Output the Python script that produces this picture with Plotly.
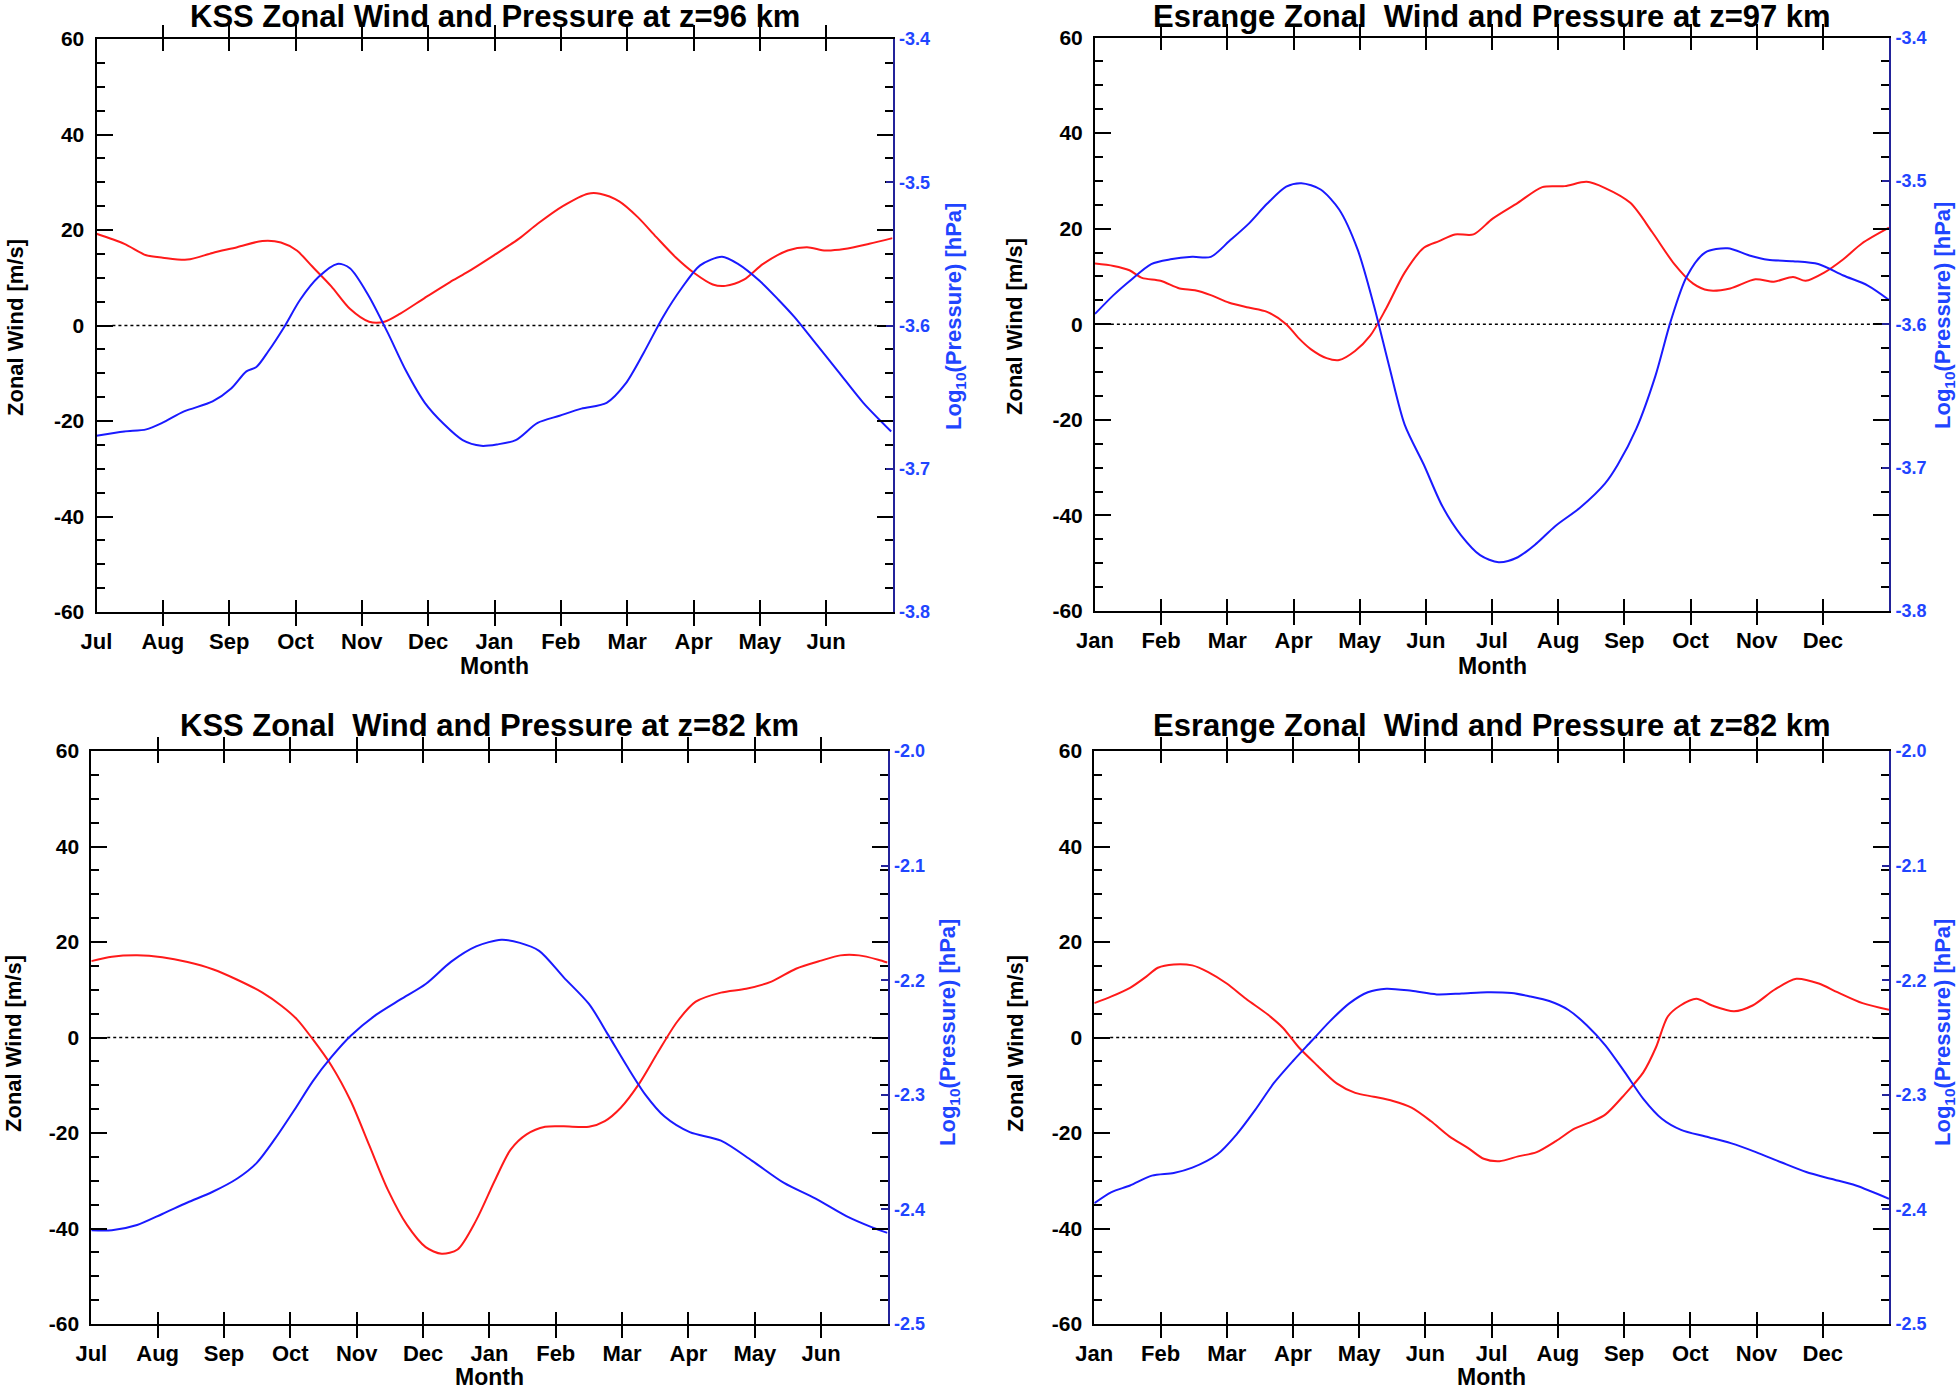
import plotly.graph_objects as go

# ---------------- data ----------------
MONTHS_KSS = ["Jul", "Aug", "Sep", "Oct", "Nov", "Dec", "Jan", "Feb", "Mar", "Apr", "May", "Jun"]
MONTHS_ESR = ["Jan", "Feb", "Mar", "Apr", "May", "Jun", "Jul", "Aug", "Sep", "Oct", "Nov", "Dec"]

WIND_TICKS = [-60, -40, -20, 0, 20, 40, 60]
WIND_TICK_TEXT = ["-60", "-40", "-20", "0", "20", "40", "60"]
PRES_TICKS_TOP = [-3.8, -3.7, -3.6, -3.5, -3.4]
PRES_TICK_TEXT_TOP = ["-3.8", "-3.7", "-3.6", "-3.5", "-3.4"]
PRES_TICKS_BOT = [-2.5, -2.4, -2.3, -2.2, -2.1, -2.0]
PRES_TICK_TEXT_BOT = ["-2.5", "-2.4", "-2.3", "-2.2", "-2.1", "-2.0"]

# KSS z=96 km  (time in months since start of axis)
kss96_wind_t = [0, 0.42, 0.75, 1.0, 1.37, 1.75, 2.12, 2.5, 2.78, 3.02, 3.25, 3.54, 3.82, 4.11, 4.34, 4.58,
                4.95, 5.33, 5.57, 5.99, 6.37, 6.65, 7.03, 7.41, 7.59, 7.88, 8.16, 8.44, 8.73, 9.01, 9.29,
                9.48, 9.76, 10.05, 10.42, 10.71, 10.99, 11.27, 11.65, 12.0]
kss96_wind = [19.2, 17.1, 14.7, 14.2, 13.8, 15.2, 16.4, 17.7, 17.4, 15.7, 12.4, 8.2, 3.5, 0.8, 0.8, 2.5,
              5.8, 9.1, 11.0, 14.7, 18.2, 21.3, 25.0, 27.6, 27.6, 26.0, 22.7, 18.5, 14.3, 11.0, 8.6,
              8.3, 9.6, 12.9, 15.7, 16.4, 15.7, 16.0, 17.1, 18.3]
kss96_pres_t = [0, 0.42, 0.75, 0.99, 1.32, 1.75, 2.03, 2.26, 2.41, 2.59, 2.83, 3.07, 3.35, 3.63, 3.82, 4.10,
                4.39, 4.67, 4.95, 5.24, 5.52, 5.80, 6.04, 6.32, 6.65, 6.98, 7.31, 7.69, 7.97, 8.25, 8.54,
                8.82, 9.10, 9.43, 9.67, 10.0, 10.28, 10.52, 10.80, 11.18, 11.56, 11.98]
kss96_pres = [-3.677, -3.674, -3.6725, -3.668, -3.660, -3.653, -3.644, -3.632, -3.629, -3.618, -3.601,
              -3.582, -3.566, -3.557, -3.560, -3.579, -3.605, -3.632, -3.654, -3.669, -3.680, -3.684,
              -3.683, -3.680, -3.668, -3.663, -3.658, -3.654, -3.641, -3.619, -3.594, -3.574, -3.558,
              -3.552, -3.557, -3.569, -3.582, -3.594, -3.610, -3.632, -3.654, -3.674]

# Esrange z=97 km
esr97_wind_t = [0, 0.28, 0.52, 0.71, 0.99, 1.28, 1.51, 1.75, 2.03, 2.32, 2.60, 2.89, 3.07, 3.26, 3.50,
                3.69, 3.93, 4.16, 4.40, 4.68, 4.97, 5.20, 5.44, 5.72, 6.01, 6.39, 6.76, 7.10, 7.43, 7.71,
                8.09, 8.42, 8.75, 9.04, 9.27, 9.60, 9.98, 10.26, 10.55, 10.74, 11.02, 11.31, 11.59, 12.0]
esr97_wind = [12.7, 12.2, 11.3, 9.7, 9.1, 7.5, 7.1, 6.1, 4.5, 3.5, 2.6, 0.0, -2.8, -5.2, -7.1,
              -7.5, -5.6, -2.4, 3.3, 10.8, 16.0, 17.4, 18.8, 18.8, 22.1, 25.4, 28.7, 28.9, 29.8, 28.5,
              25.4, 19.3, 12.7, 8.5, 7.1, 7.5, 9.4, 8.9, 9.9, 9.1, 10.8, 13.6, 16.9, 20.2]
esr97_pres_t = [0, 0.28, 0.52, 0.85, 1.14, 1.47, 1.75, 2.03, 2.32, 2.60, 2.89, 3.12, 3.41, 3.69, 3.97,
                4.21, 4.45, 4.68, 4.97, 5.25, 5.53, 5.82, 6.10, 6.39, 6.67, 6.95, 7.33, 7.71, 7.90, 8.18,
                8.47, 8.70, 8.94, 9.22, 9.56, 9.89, 10.17, 10.55, 10.93, 11.31, 11.68, 12.0]
esr97_pres = [-3.5928, -3.5797, -3.570, -3.558, -3.5547, -3.553, -3.553, -3.542, -3.530, -3.516, -3.504,
              -3.5016, -3.506, -3.520, -3.548, -3.586, -3.630, -3.670, -3.698, -3.727, -3.747, -3.761,
              -3.766, -3.7625, -3.753, -3.741, -3.728, -3.711, -3.698, -3.673, -3.636, -3.598, -3.567,
              -3.550, -3.547, -3.552, -3.555, -3.556, -3.558, -3.566, -3.573, -3.583]

# KSS z=82 km
kss82_wind_t = [0, 0.31, 0.69, 1.07, 1.45, 1.83, 2.20, 2.58, 2.87, 3.10, 3.34, 3.62, 3.91, 4.19, 4.47,
                4.76, 5.04, 5.28, 5.52, 5.80, 6.08, 6.32, 6.56, 6.84, 7.12, 7.50, 7.74, 7.98, 8.26, 8.54,
                8.83, 9.11, 9.49, 9.87, 10.25, 10.62, 11.00, 11.29, 11.57, 11.86, 12.0]
kss82_wind = [16.0, 16.9, 17.2, 16.8, 15.8, 14.3, 12.1, 9.4, 6.6, 3.8, -0.4, -5.9, -13.3, -22.6, -31.9,
              -39.3, -43.9, -45.3, -44.4, -38.3, -30.0, -23.5, -20.3, -18.7, -18.6, -18.7, -17.5, -14.7,
              -9.6, -3.1, 3.3, 7.5, 9.4, 10.2, 11.7, 14.4, 16.1, 17.2, 17.2, 16.3, 15.7]
kss82_pres_t = [0, 0.31, 0.69, 1.07, 1.45, 1.83, 2.20, 2.49, 2.77, 3.06, 3.34, 3.62, 3.91, 4.29, 4.66,
                5.04, 5.42, 5.80, 6.18, 6.46, 6.75, 7.12, 7.50, 7.79, 8.07, 8.35, 8.64, 9.02, 9.49, 9.96,
                10.44, 10.91, 11.38, 11.76, 12.0]
kss82_pres = [-2.4182, -2.4182, -2.4136, -2.404, -2.394, -2.3846, -2.373, -2.3596, -2.3383, -2.3133,
              -2.288, -2.267, -2.2485, -2.2303, -2.2168, -2.2033, -2.184, -2.1705, -2.1647, -2.1674,
              -2.1744, -2.1975, -2.2207, -2.2477, -2.2747, -2.2998, -2.319, -2.3326, -2.340, -2.3576,
              -2.3769, -2.3904, -2.4059, -2.4155, -2.4205]

# Esrange z=82 km
esr82_wind_t = [0, 0.26, 0.54, 0.78, 0.96, 1.20, 1.48, 1.72, 2.00, 2.29, 2.62, 2.85, 3.09, 3.37, 3.66,
                3.94, 4.22, 4.51, 4.79, 5.08, 5.36, 5.64, 5.88, 6.12, 6.40, 6.68, 6.97, 7.25, 7.53, 7.72,
                8.01, 8.29, 8.48, 8.66, 8.85, 9.09, 9.33, 9.66, 9.94, 10.27, 10.60, 10.94, 11.22, 11.60,
                12.0]
esr82_wind = [7.2, 8.6, 10.4, 12.7, 14.6, 15.3, 15.1, 13.7, 11.3, 8.1, 4.8, 2.0, -2.1, -5.9, -9.6,
              -11.6, -12.4, -13.3, -14.7, -17.5, -20.7, -23.1, -25.4, -25.9, -24.9, -24.0, -21.7, -19.1,
              -17.5, -16.1, -11.9, -7.3, -2.1, 4.4, 6.7, 8.1, 6.7, 5.5, 6.7, 10.0, 12.3, 11.3, 9.5, 7.2,
              5.8]
esr82_pres_t = [0, 0.26, 0.54, 0.87, 1.20, 1.48, 1.86, 2.15, 2.43, 2.71, 3.00, 3.28, 3.56, 3.85, 4.13,
                4.41, 4.79, 5.17, 5.55, 5.93, 6.30, 6.59, 6.87, 7.16, 7.44, 7.72, 8.01, 8.29, 8.57, 8.86,
                9.23, 9.61, 9.99, 10.37, 10.75, 11.12, 11.50, 12.0]
esr82_pres = [-2.3946, -2.3849, -2.3791, -2.3705, -2.3682, -2.3636, -2.3519, -2.3345, -2.3132, -2.2899,
              -2.2705, -2.2531, -2.2357, -2.2202, -2.2105, -2.2074, -2.2093, -2.2124, -2.2116, -2.2105,
              -2.2112, -2.2143, -2.2182, -2.226, -2.2395, -2.257, -2.2802, -2.3035, -2.3209, -2.3306,
              -2.3364, -2.3422, -2.350, -2.3589, -2.3674, -2.3733, -2.3791, -2.3907]

TITLES = ["KSS Zonal Wind and Pressure at z=96 km",
          "Esrange Zonal  Wind and Pressure at z=97 km",
          "KSS Zonal  Wind and Pressure at z=82 km",
          "Esrange Zonal  Wind and Pressure at z=82 km"]

# ---------------- layout constants (pixels) ----------------
W, H = 1960, 1391
FONT = "Liberation Sans, Arial, Helvetica, sans-serif"
RED = "#ff1a1a"
BLUE = "#1a1aff"
RBLUE = "#1f45ff"
NAVY = "#23239a"

panels = [
    dict(box=(96.5, 892.5, 39, 612), months=MONTHS_KSS, wt=kss96_wind_t, w=kss96_wind,
         pt=kss96_pres_t, p=kss96_pres, prange=[-3.8, -3.4],
         ptv=PRES_TICKS_TOP, ptt=PRES_TICK_TEXT_TOP, title=TITLES[0],
         title_y=17, ylab=(16, 328), rlab=(955, 317), month_y=666),
    dict(box=(1095, 1889, 37.5, 611), months=MONTHS_ESR, wt=esr97_wind_t, w=esr97_wind,
         pt=esr97_pres_t, p=esr97_pres, prange=[-3.8, -3.4],
         ptv=PRES_TICKS_TOP, ptt=PRES_TICK_TEXT_TOP, title=TITLES[1],
         title_y=16, ylab=(1015, 327), rlab=(1944, 316), month_y=666),
    dict(box=(91.3, 887.5, 751, 1324), months=MONTHS_KSS, wt=kss82_wind_t, w=kss82_wind,
         pt=kss82_pres_t, p=kss82_pres, prange=[-2.5, -2.0],
         ptv=PRES_TICKS_BOT, ptt=PRES_TICK_TEXT_BOT, title=TITLES[2],
         title_y=725, ylab=(13, 1044), rlab=(949, 1033), month_y=1377),
    dict(box=(1094.3, 1889, 751, 1324), months=MONTHS_ESR, wt=esr82_wind_t, w=esr82_wind,
         pt=esr82_pres_t, p=esr82_pres, prange=[-2.5, -2.0],
         ptv=PRES_TICKS_BOT, ptt=PRES_TICK_TEXT_BOT, title=TITLES[3],
         title_y=725, ylab=(1015, 1044), rlab=(1944, 1033), month_y=1377),
]

fig = go.Figure()
layout = dict(template="none", width=W, height=H, autosize=False,
              margin=dict(l=0, r=0, t=0, b=0, pad=0, autoexpand=False),
              paper_bgcolor="white", plot_bgcolor="white", showlegend=False,
              font=dict(family=FONT, color="black"))
annotations = []
shapes = []


def px(x):
    return x / W


def py(y):
    return 1 - y / H


for i, P in enumerate(panels):
    xa = "x" if i == 0 else f"x{i + 1}"
    ya = f"y{2 * i + 1}" if i > 0 else "y"
    yb = f"y{2 * i + 2}"
    xkey = "xaxis" if i == 0 else f"xaxis{i + 1}"
    ykey = "yaxis" if i == 0 else f"yaxis{2 * i + 1}"
    y2key = f"yaxis{2 * i + 2}"
    x0, x1, t0, t1 = P["box"]

    fig.add_trace(go.Scatter(x=P["wt"], y=P["w"], mode="lines", xaxis=xa, yaxis=ya,
                             line=dict(color=RED, width=2, shape="spline", smoothing=0.8),
                             hoverinfo="skip"))
    fig.add_trace(go.Scatter(x=P["pt"], y=P["p"], mode="lines", xaxis=xa, yaxis=yb,
                             line=dict(color=BLUE, width=2, shape="spline", smoothing=0.8),
                             hoverinfo="skip"))

    layout[xkey] = dict(domain=[px(x0), px(x1)], anchor=ya, range=[0, 12], automargin=False,
                        tickvals=list(range(12)), ticktext=P["months"],
                        showgrid=False, zeroline=False, showline=True, linecolor="black",
                        linewidth=2, mirror="allticks", ticks="inside", ticklen=12,
                        tickwidth=2, tickcolor="black", ticklabelstandoff=9,
                        tickfont=dict(family=FONT, size=22, color="black", weight="bold"),
                        fixedrange=True)
    layout[ykey] = dict(domain=[py(t1), py(t0)], anchor=xa, range=[-60, 60], automargin=False,
                        tickvals=WIND_TICKS, ticktext=WIND_TICK_TEXT,
                        showgrid=False, zeroline=False, showline=True,
                        linecolor="black", linewidth=2, mirror="allticks", ticks="inside",
                        ticklen=16, tickwidth=2, tickcolor="black", ticklabelstandoff=6,
                        minor=dict(dtick=5, tick0=0, ticks="inside", ticklen=8, tickwidth=2,
                                   tickcolor="black", showgrid=False),
                        tickfont=dict(family=FONT, size=21, color="black", weight="bold"),
                        fixedrange=True)
    layout[y2key] = dict(overlaying=ya, anchor=xa, side="right", range=P["prange"],
                         automargin=False, tickvals=P["ptv"], ticktext=P["ptt"],
                         showgrid=False, zeroline=False, showline=True,
                         linecolor=NAVY, linewidth=2, ticks="inside", ticklen=7, tickwidth=2,
                         tickcolor=NAVY, ticklabelstandoff=1,
                         tickfont=dict(family=FONT, size=18, color=RBLUE, weight="bold"),
                         fixedrange=True)

    # dotted zero line
    shapes.append(dict(type="line", xref=f"{xa} domain", yref=ya, x0=0.02, x1=0.98, y0=0, y1=0,
                       line=dict(color="black", width=1.5, dash="dot"), layer="below"))

    cx = (x0 + x1) / 2
    annotations.append(dict(text=P["title"], x=px(cx), y=py(P["title_y"]), xref="paper",
                            yref="paper", xanchor="center", yanchor="middle", showarrow=False,
                            font=dict(family=FONT, size=31, color="black", weight="bold")))
    annotations.append(dict(text="Month", x=px(cx), y=py(P["month_y"]), xref="paper",
                            yref="paper", xanchor="center", yanchor="middle", showarrow=False,
                            font=dict(family=FONT, size=23, color="black", weight="bold")))
    annotations.append(dict(text="Zonal Wind [m/s]", x=px(P["ylab"][0]), y=py(P["ylab"][1]),
                            xref="paper", yref="paper", xanchor="center", yanchor="middle",
                            textangle=-90, showarrow=False,
                            font=dict(family=FONT, size=22, color="black", weight="bold")))
    annotations.append(dict(text="Log<sub>10</sub>(Pressure) [hPa]", x=px(P["rlab"][0]),
                            y=py(P["rlab"][1]), xref="paper", yref="paper", xanchor="center",
                            yanchor="middle", textangle=-90, showarrow=False,
                            font=dict(family=FONT, size=22, color=RBLUE, weight="bold")))

layout["annotations"] = annotations
layout["shapes"] = shapes
fig.update_layout(**layout)
fig.write_html("out.html",
               config={"displayModeBar": False, "staticPlot": True},
               post_script="document.body.style.margin='0px';"
                           "document.body.style.padding='0px';"
                           "document.body.style.overflow='hidden';")
